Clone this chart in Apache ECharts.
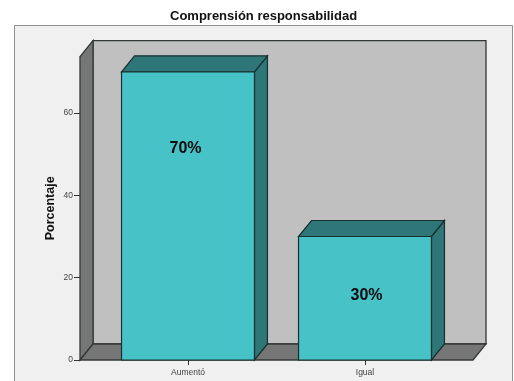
<!DOCTYPE html>
<html>
<head>
<meta charset="utf-8">
<style>html,body{margin:0;padding:0;background:#fff}#chart{width:514px;height:381px}</style>
<script src="https://cdn.jsdelivr.net/npm/echarts@6/dist/echarts.min.js"></script>
</head>
<body>
<div id="chart"></div>
<script>
const titleText = 'Comprensión responsabilidad';
const yAxisName = 'Porcentaje';
const categories = ['Aumentó', 'Igual'];
const percentages = [70, 30];
const yTicks = [0, 20, 40, 60];
const yMax = 73.7;

// Pseudo-3D box geometry, in pixels
const DEPTH_X = 13;
const DEPTH_Y = 16;
const FLOOR_OVERHANG = 19.5;
const BAR_BAND_SHARE = 0.751;
const FONT = '"Liberation Sans", Arial, sans-serif';

// Where each value label sits: share of bar height, horizontal nudge
const LABEL_HEIGHT_SHARE = [0.733, 0.52];
const LABEL_NUDGE_X = [-2.5, 1.5];

const EDGE = '#333836';
const BAR_EDGE = '#17302f';

function poly(points, fill, stroke, width) {
  return { type: 'polygon', shape: { points: points },
    style: { fill: fill, stroke: stroke, lineWidth: width, lineJoin: 'miter' } };
}

// Back wall, side wall and floor of the chart box
function renderBox(params, api) {
  const band = api.size([1, 0])[0];
  const origin = api.coord([0, 0]);
  const top = api.coord([0, yMax])[1];
  const floorY = origin[1];
  const x0 = origin[0] - band / 2 - FLOOR_OVERHANG;
  const x1 = api.coord([1, 0])[0] + band / 2 + FLOOR_OVERHANG;
  return { type: 'group', children: [
    poly([[x0 + DEPTH_X, top - DEPTH_Y], [x1 + DEPTH_X, top - DEPTH_Y], [x1 + DEPTH_X, floorY - DEPTH_Y], [x0 + DEPTH_X, floorY - DEPTH_Y]], '#c0c0c0', EDGE, 1.3),
    poly([[x0, top], [x0 + DEPTH_X, top - DEPTH_Y], [x0 + DEPTH_X, floorY - DEPTH_Y], [x0, floorY]], '#767676', EDGE, 1.3),
    poly([[x0, floorY], [x0 + DEPTH_X, floorY - DEPTH_Y], [x1 + DEPTH_X, floorY - DEPTH_Y], [x1, floorY]], '#767676', EDGE, 1.3)
  ] };
}

// One extruded bar with its value label
function renderBar(params, api) {
  const i = params.dataIndex;
  const value = api.value(1);
  const base = api.coord([api.value(0), 0]);
  const head = api.coord([api.value(0), value]);
  const w = api.size([1, 0])[0] * BAR_BAND_SHARE;
  const l = base[0] - w / 2, r = base[0] + w / 2;
  const b = base[1], t = head[1];
  return { type: 'group', children: [
    poly([[r, t], [r + DEPTH_X, t - DEPTH_Y], [r + DEPTH_X, b - DEPTH_Y], [r, b]], '#2e7678', BAR_EDGE, 1.2),
    poly([[l, t], [l + DEPTH_X, t - DEPTH_Y], [r + DEPTH_X, t - DEPTH_Y], [r, t]], '#2e7678', BAR_EDGE, 1.2),
    poly([[l, t], [r, t], [r, b], [l, b]], '#47c2c7', BAR_EDGE, 1.2),
    { type: 'text', style: {
        x: base[0] + LABEL_NUDGE_X[i],
        y: b - (b - t) * LABEL_HEIGHT_SHARE[i],
        text: value + '%', fill: '#0a0a0a', align: 'center', verticalAlign: 'middle',
        font: 'bold 16px ' + FONT } }
  ] };
}

const chart = echarts.init(document.getElementById('chart'), null, { renderer: 'canvas' });
chart.setOption({
  animation: false,
  backgroundColor: '#ffffff',
  title: {
    text: titleText, left: 170, top: 9.5, padding: 0,
    textStyle: { fontFamily: FONT, fontSize: 13, fontWeight: 'bold', color: '#111' }
  },
  graphic: [{
    type: 'rect', z: -10, silent: true,
    shape: { x: 14.5, y: 25.5, width: 498, height: 370 },
    style: { fill: '#f0f0f0', stroke: '#8e8e8e', lineWidth: 1 }
  }],
  grid: { left: 99.5, top: 56.6, width: 354, height: 303.4 },
  xAxis: {
    type: 'category', data: categories,
    axisLine: { show: false },
    axisTick: { show: true, alignWithLabel: true, length: 5, lineStyle: { color: '#333', width: 1 } },
    axisLabel: { fontFamily: FONT, fontSize: 8.5, color: '#444', margin: 8 },
    splitLine: { show: false }
  },
  yAxis: {
    type: 'value', min: 0, max: yMax, offset: 19.5,
    name: yAxisName, nameLocation: 'middle', nameGap: 23, nameRotate: 90, nameMoveOverlap: false,
    nameTextStyle: { fontFamily: FONT, fontSize: 12.5, fontWeight: 'bold', color: '#111' },
    axisLine: { show: true, lineStyle: { color: EDGE } },
    axisTick: { show: true, length: 6, customValues: yTicks, lineStyle: { color: '#333', width: 1 } },
    axisLabel: { fontFamily: FONT, fontSize: 8.5, color: '#444', margin: 7, padding: [2, 0, 0, 0], customValues: yTicks },
    splitLine: { show: false }
  },
  series: [
    { type: 'custom', z: 1, silent: true, renderItem: renderBox, data: [[0, 0]], encode: { x: 0, y: 1 } },
    { type: 'custom', z: 2, silent: true, renderItem: renderBar,
      data: percentages.map((v, i) => [i, v]), encode: { x: 0, y: 1 } }
  ]
});
</script>
</body>
</html>
